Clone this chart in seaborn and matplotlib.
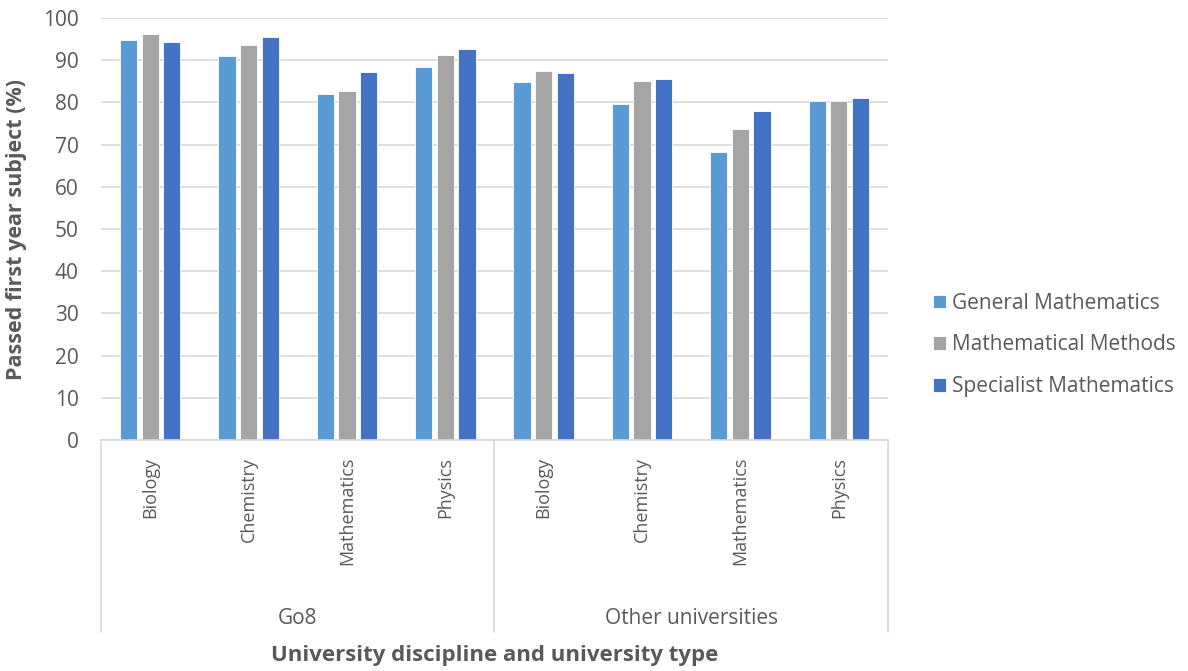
import pandas as pd
import numpy as np
import matplotlib.pyplot as plt
import matplotlib.transforms as mtransforms
import seaborn as sns

sns.set_theme(style='white')
plt.rcParams['font.family'] = ['Open Sans', 'DejaVu Sans']

disciplines = ['Biology', 'Chemistry', 'Mathematics', 'Physics']
uni_types = ['Go8', 'Other universities']
series = ['General Mathematics', 'Mathematical Methods', 'Specialist Mathematics']

general_maths = [94.8, 91.0, 82.0, 88.4, 84.8, 79.6, 68.2, 80.4]
maths_methods = [96.2, 93.7, 82.6, 91.2, 87.4, 85.1, 73.6, 80.4]
specialist_maths = [94.4, 95.4, 87.2, 92.6, 86.9, 85.5, 77.9, 81.0]

colors = ['#5B9BD5', '#A5A5A5', '#4472C4']

cats = [f'{u}|{d}' for u in uni_types for d in disciplines]
rows = []
for name, vals in zip(series, [general_maths, maths_methods, specialist_maths]):
    for c, v in zip(cats, vals):
        rows.append({'cat': c, 'series': name, 'value': v})
df = pd.DataFrame(rows)

fig = plt.figure(figsize=(11.88, 6.71), dpi=100)
ax = fig.add_axes([101 / 1188, 1 - 440 / 671, (888 - 101) / 1188, (440 - 18) / 671])

sns.barplot(data=df, x='cat', y='value', hue='series', order=cats, hue_order=series,
            palette=colors, width=0.66, gap=0.2, edgecolor='white', linewidth=0.6,
            saturation=1, ax=ax)

ax.set_ylim(0, 100)
ax.set_yticks(range(0, 101, 10))
ax.set_xticks(range(len(cats)))
ax.set_xticklabels([c.split('|')[1] for c in cats], rotation=90, fontsize=13)
ax.set_xlim(-0.5, len(cats) - 0.5)
ax.yaxis.grid(True, color='#D9D9D9', linewidth=1.2)
ax.set_axisbelow(True)
for s in ['left', 'right', 'top']:
    ax.spines[s].set_visible(False)
ax.spines['bottom'].set_color('#D9D9D9')
ax.spines['bottom'].set_linewidth(1.2)
ax.tick_params(axis='y', length=0, labelsize=15, colors='#595959', pad=16)
ax.tick_params(axis='x', length=0, labelsize=13, colors='#595959', pad=12)

ax.set_ylabel('Passed first year subject (%)', fontsize=15.5, fontweight='bold', color='#595959')
ax.yaxis.set_label_coords(-74 / 787, 0.5)
ax.set_xlabel('')

# group separators and labels
trans = mtransforms.blended_transform_factory(ax.transData, ax.transAxes)
y_low = -(632 - 440) / (440 - 18)
for xpos in [-0.5, 3.5, 7.5]:
    ax.plot([xpos, xpos], [0, y_low], color='#D9D9D9', linewidth=1.2, transform=trans, clip_on=False)
for i, u in enumerate(uni_types):
    ax.text(1.5 + 4 * i, -(618 - 440) / (440 - 18), u, transform=trans, ha='center', va='center',
            fontsize=15, color='#595959')
fig.text((101 + 888) / 2 / 1188, 1 - 656 / 671, 'University discipline and university type',
         ha='center', va='center', fontsize=16, fontweight='bold', color='#595959')

handles, labels = ax.get_legend_handles_labels()
ax.legend(handles, labels, loc='center left', bbox_to_anchor=(914 / 1188, 1 - 345 / 671),
          bbox_transform=fig.transFigure, frameon=False, fontsize=15, handlelength=0.62,
          handleheight=0.62, handletextpad=0.3, labelspacing=1.0, labelcolor='#595959')

fig.savefig('out.png', dpi=100)
